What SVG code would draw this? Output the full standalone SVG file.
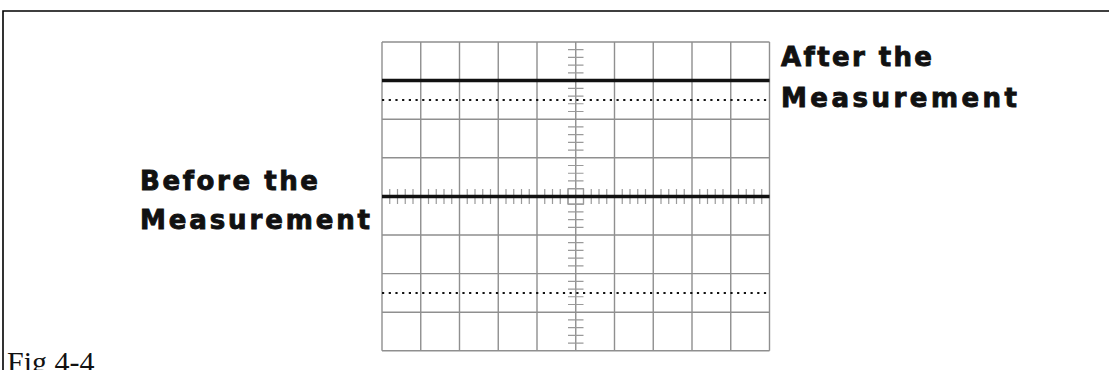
<svg xmlns="http://www.w3.org/2000/svg" width="1109" height="370" viewBox="0 0 1109 370">
<style>
.grid{stroke:#8f8f8f;stroke-width:1.4;fill:none}
.tick{stroke:#9a9a9a;stroke-width:1.2;fill:none}
.trace{stroke:#111;stroke-width:3.5;fill:none}
.dot{stroke:#111;stroke-width:2;stroke-dasharray:2.2 4.5;fill:none}
.lbl{font-family:"DejaVu Sans",sans-serif;font-weight:bold;font-size:26px;fill:#111;stroke:#111;stroke-width:0.9}
.cap{font-family:"Liberation Serif",serif;font-size:30px;fill:#111}
</style>
<rect width="1109" height="370" fill="#fff"/>
<g id="frame"><path d="M3,370 V11 H1109" stroke="#000" stroke-width="1.6" fill="none"/></g>
<g id="grid">
<path class="grid" d="M382,42 V350.8 M420.75,42 V350.8 M459.5,42 V350.8 M498.25,42 V350.8 M537,42 V350.8 M575.75,42 V350.8 M614.5,42 V350.8 M653.25,42 V350.8 M692,42 V350.8 M730.75,42 V350.8 M769.5,42 V350.8"/>
<path class="grid" d="M382,42 H769.5 M382,80.6 H769.5 M382,119.2 H769.5 M382,157.8 H769.5 M382,196.4 H769.5 M382,235 H769.5 M382,273.6 H769.5 M382,312.2 H769.5 M382,350.8 H769.5"/>
<rect class="tick" x="568" y="188.7" width="15.5" height="15.5"/>
<path class="tick" d="M568,49.72 H583.5 M568,57.44 H583.5 M568,65.16 H583.5 M568,72.88 H583.5 M568,88.32 H583.5 M568,96.04 H583.5 M568,103.76 H583.5 M568,111.48 H583.5 M568,126.92 H583.5 M568,134.64 H583.5 M568,142.36 H583.5 M568,150.08 H583.5 M568,165.52 H583.5 M568,173.24 H583.5 M568,180.96 H583.5 M568,188.68 H583.5 M568,204.12 H583.5 M568,211.84 H583.5 M568,219.56 H583.5 M568,227.28 H583.5 M568,242.72 H583.5 M568,250.44 H583.5 M568,258.16 H583.5 M568,265.88 H583.5 M568,281.32 H583.5 M568,289.04 H583.5 M568,296.76 H583.5 M568,304.48 H583.5 M568,319.92 H583.5 M568,327.64 H583.5 M568,335.36 H583.5 M568,343.08 H583.5"/>
<path class="tick" d="M389.75,189 V204 M397.5,189 V204 M405.25,189 V204 M413,189 V204 M428.5,189 V204 M436.25,189 V204 M444,189 V204 M451.75,189 V204 M467.25,189 V204 M475,189 V204 M482.75,189 V204 M490.5,189 V204 M506,189 V204 M513.75,189 V204 M521.5,189 V204 M529.25,189 V204 M544.75,189 V204 M552.5,189 V204 M560.25,189 V204 M568,189 V204 M583.5,189 V204 M591.25,189 V204 M599,189 V204 M606.75,189 V204 M622.25,189 V204 M630,189 V204 M637.75,189 V204 M645.5,189 V204 M661,189 V204 M668.75,189 V204 M676.5,189 V204 M684.25,189 V204 M699.75,189 V204 M707.5,189 V204 M715.25,189 V204 M723,189 V204 M738.5,189 V204 M746.25,189 V204 M754,189 V204 M761.75,189 V204"/>
</g>
<g id="traces">
<path class="trace" d="M382,80.6 H769.5"/>
<path class="trace" d="M382,196.4 H769.5"/>
<path class="dot" d="M382,99.9 H769.5"/>
<path class="dot" d="M382,292.9 H769.5"/>
</g>
<g id="label-after">
<text class="lbl" x="781" y="66" textLength="151" lengthAdjust="spacing">After the</text>
<text class="lbl" x="781" y="107" textLength="236" lengthAdjust="spacing">Measurement</text>
</g>
<g id="label-before">
<text class="lbl" x="140" y="190" textLength="178" lengthAdjust="spacing">Before the</text>
<text class="lbl" x="140" y="229" textLength="230" lengthAdjust="spacing">Measurement</text>
</g>
<g id="caption"><text class="cap" x="7" y="372">Fig 4-4</text></g>
</svg>
